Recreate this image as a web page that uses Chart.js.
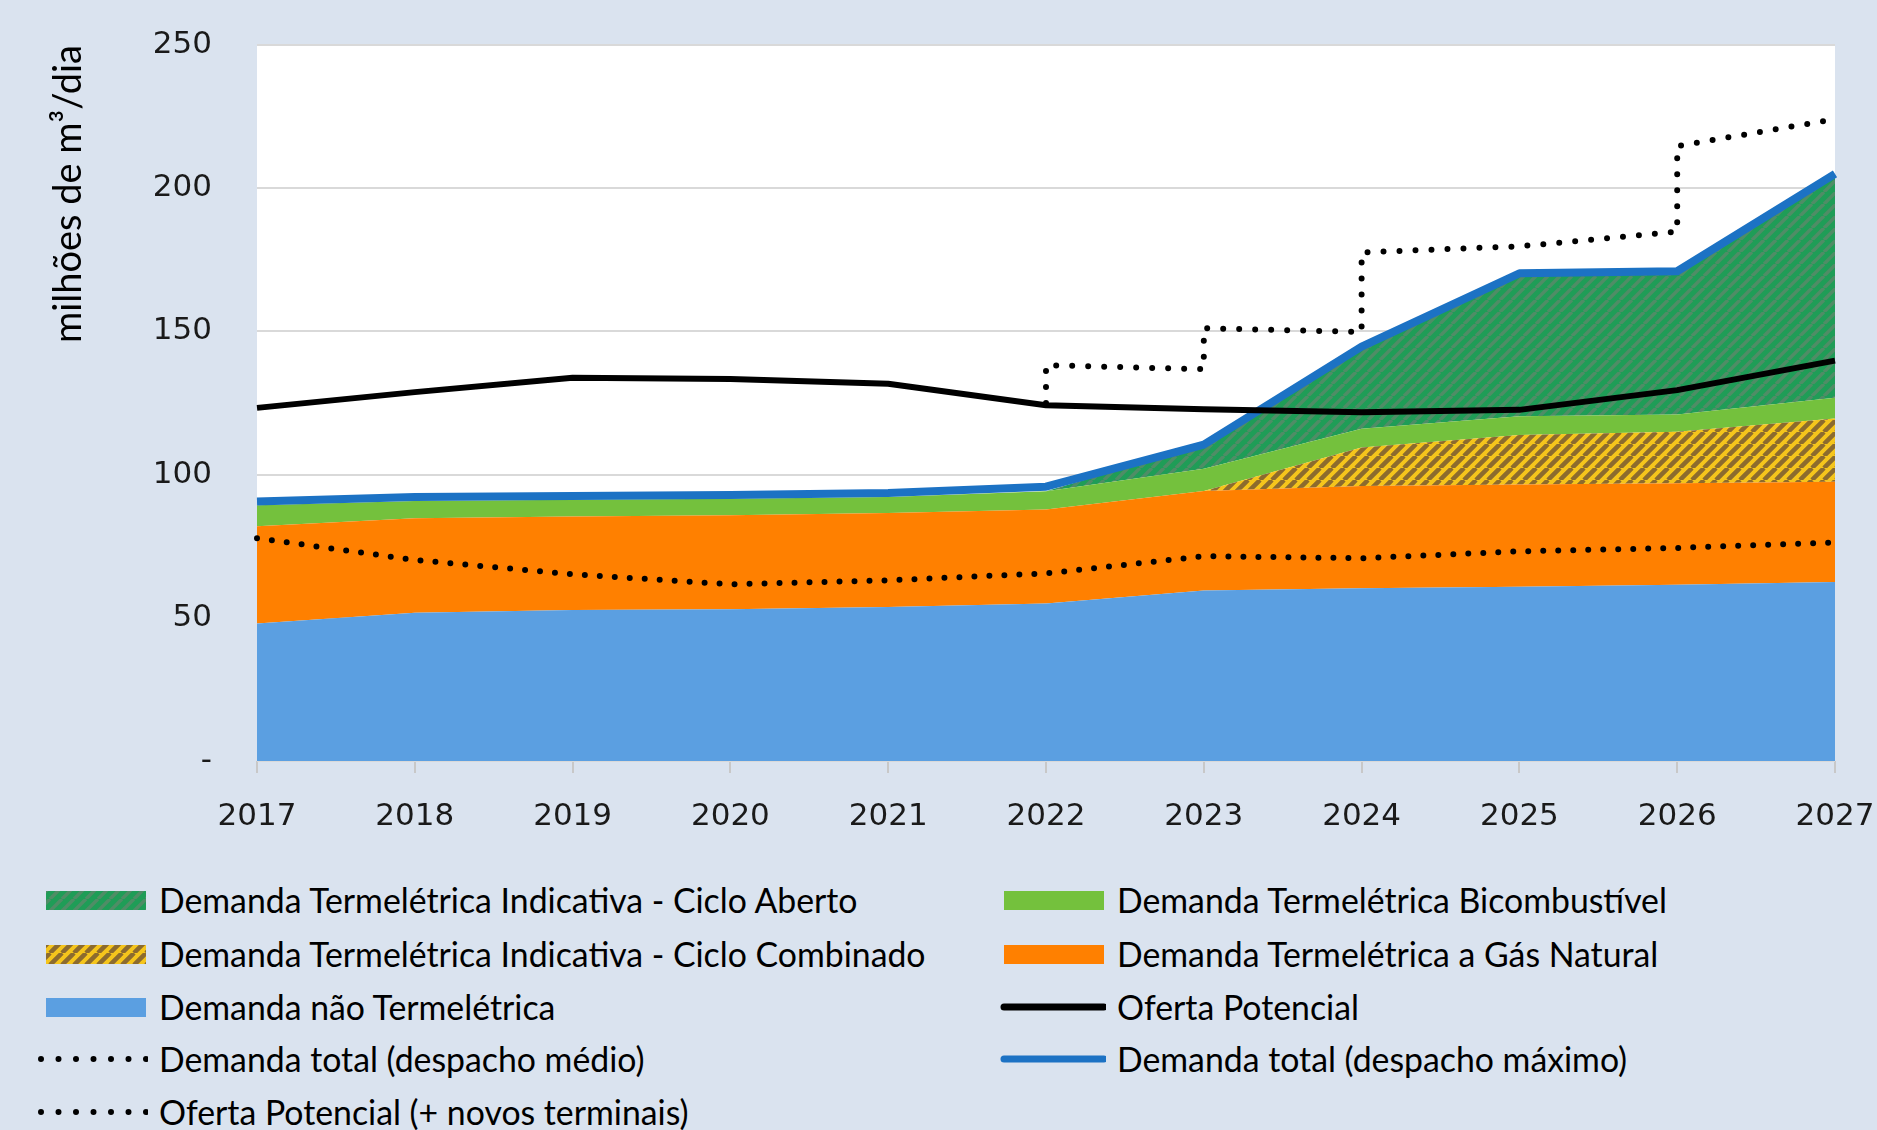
<!DOCTYPE html>
<html>
<head>
<meta charset="utf-8">
<title>Oferta e demanda de gás natural</title>
<script src="https://cdn.jsdelivr.net/npm/chart.js@4.4.1/dist/chart.umd.min.js"></script>
<style>
  html, body { margin: 0; padding: 0; background: #dae3ef; }
  #wrap { position: relative; width: 1877px; height: 1130px; overflow: hidden; }
  #box { position: absolute; left: 0; top: 0; width: 1877px; height: 870px; }
  .item { position: absolute; height: 50px; display: flex; align-items: center;
          font-family: Lato, sans-serif; font-size: 33.8px; color: #000; white-space: nowrap; }
  .item canvas { margin-right: 11px; }
</style>
</head>
<body>
<div id="wrap">
  <div id="box"><canvas id="grafico"></canvas></div>
  <div id="legenda"></div>
</div>
<script>
// dados (milhões de m³/dia)
const anos = ['2017', '2018', '2019', '2020', '2021', '2022', '2023', '2024', '2025', '2026', '2027'];
const naoTermeletrica = [48, 51.8, 52.7, 53, 53.8, 55, 59.5, 60.3, 60.8, 61.5, 62.5];
const gasNatural = [34, 33, 32.7, 32.8, 32.8, 32.8, 34.8, 35.7, 35.7, 35.5, 35];
const cicloCombinado = [0, 0, 0, 0, 0, 0, 0, 13.5, 17.3, 18, 22.1];
const bicombustivel = [7.3, 6, 5.8, 5.8, 5.6, 6.4, 7.7, 6.5, 6.6, 6, 7.2];
const cicloAberto = [0, 0, 0, 0, 0, 0, 8.5, 28.7, 49.9, 50, 78.2];
const ofertaPotencial = [123.3, 128.8, 133.8, 133.4, 131.7, 124.2, 122.8, 121.8, 122.6, 129.5, 139.8];
const demandaMedio = [77.8, 70.2, 65.2, 61.7, 63.1, 65.5, 71.5, 70.8, 73.2, 74.4, 76.3];
const demandaMaximo = [90.6, 92.2, 92.5, 92.9, 93.6, 95.8, 110.5, 144.7, 170.3, 171, 205];
const novosTerminaisAnos = ['2022', '2022', '2023', '2023', '2024', '2024', '2025', '2026', '2026', '2027'];
const novosTerminaisValores = [125, 138.2, 136.8, 151.1, 149.8, 177.6, 179.7, 184.8, 214.7, 224.1];

// hachuras
const hatchVerde = { base: '#1f9d57', stripe: '#4f8d66', size: 12, lw: 3.5 };
const hatchAmarelo = { base: '#f5c51c', stripe: '#8c6b2e', size: 12, lw: 4.5 };

function hatch(ctx, h) {
  const c = document.createElement('canvas');
  c.width = c.height = h.size;
  const g = c.getContext('2d');
  g.fillStyle = h.base;
  g.fillRect(0, 0, h.size, h.size);
  g.strokeStyle = h.stripe;
  g.lineWidth = h.lw;
  g.beginPath();
  for (let k = -1; k <= 1; k++) {
    g.moveTo(k * h.size, h.size);
    g.lineTo((k + 1) * h.size, 0);
  }
  g.stroke();
  return ctx.createPattern(c, 'repeat');
}

const ctx = document.getElementById('grafico').getContext('2d');

const fundoBranco = {
  id: 'fundoBranco',
  beforeDraw(chart) {
    const a = chart.chartArea;
    chart.ctx.save();
    chart.ctx.fillStyle = '#ffffff';
    chart.ctx.fillRect(a.left, a.top, a.right - a.left, a.bottom - a.top);
    chart.ctx.restore();
  }
};

// sem folga extra dos rótulos: a área do gráfico fica onde o padding manda
const semFolga = (s) => { s.paddingTop = 0; s.paddingBottom = 0; s.paddingLeft = 0; s.paddingRight = 0; };

const area = (label, data, fill, cor, swatch) => ({
  label, data, fill, backgroundColor: cor, borderWidth: 0, pointRadius: 0,
  order: 2, stack: 'demanda', swatch
});

const chart = new Chart(ctx, {
  type: 'line',
  data: {
    labels: anos,
    datasets: [
      area('Demanda não Termelétrica', naoTermeletrica, 'origin', '#5b9fe1', { tipo: 'box', cor: '#5b9fe1' }),
      area('Demanda Termelétrica a Gás Natural', gasNatural, '-1', '#ff8000', { tipo: 'box', cor: '#ff8000' }),
      area('Demanda Termelétrica Indicativa - Ciclo Combinado', cicloCombinado, '-1', hatch(ctx, hatchAmarelo), { tipo: 'box', hatch: hatchAmarelo }),
      area('Demanda Termelétrica Bicombustível', bicombustivel, '-1', '#74c13d', { tipo: 'box', cor: '#74c13d' }),
      area('Demanda Termelétrica Indicativa - Ciclo Aberto', cicloAberto, '-1', hatch(ctx, hatchVerde), { tipo: 'box', hatch: hatchVerde }),
      {
        label: 'Demanda total (despacho máximo)', data: demandaMaximo, stack: 'max',
        borderColor: '#1c72c4', borderWidth: 8, fill: false, pointRadius: 0, order: 1,
        borderJoinStyle: 'round', swatch: { tipo: 'linha', cor: '#1c72c4', lw: 7 }
      },
      {
        label: 'Oferta Potencial', data: ofertaPotencial, stack: 'oferta',
        borderColor: '#000000', borderWidth: 6, fill: false, pointRadius: 0, order: 0,
        borderJoinStyle: 'round', swatch: { tipo: 'linha', cor: '#000000', lw: 7 }
      },
      {
        label: 'Demanda total (despacho médio)', data: demandaMedio, stack: 'medio',
        borderColor: '#000000', borderWidth: 6, borderDash: [0, 15], borderCapStyle: 'round',
        fill: false, pointRadius: 0, order: 0, swatch: { tipo: 'pontos' }
      },
      {
        label: 'Oferta Potencial (+ novos terminais)',
        data: novosTerminaisAnos.map((a, i) => ({ x: a, y: novosTerminaisValores[i] })),
        stack: 'novos', borderColor: '#000000', borderWidth: 6, borderDash: [0, 16],
        borderCapStyle: 'round', fill: false, pointRadius: 0, order: 0, swatch: { tipo: 'pontos' }
      }
    ]
  },
  options: {
    responsive: true,
    maintainAspectRatio: false,
    animation: false,
    layout: { padding: { left: 0, right: 42, top: 45, bottom: 0 } },
    plugins: { legend: { display: false }, tooltip: { enabled: false } },
    scales: {
      x: {
        offset: false,
        grid: { drawOnChartArea: false, drawTicks: true, tickLength: 12, color: '#c8c8c8', lineWidth: 2 },
        border: { display: false },
        ticks: { font: { family: 'DejaVu Sans', size: 31 }, color: '#1a1a1a', padding: 25, maxRotation: 0 },
        afterFit: (s) => { s.height = 109; semFolga(s); }
      },
      y: {
        stacked: true,
        min: 0,
        max: 250,
        grid: { color: '#d9d9d9', lineWidth: 2, drawTicks: false },
        border: { display: false },
        ticks: {
          stepSize: 50,
          padding: 45,
          font: { family: 'DejaVu Sans', size: 31 },
          color: '#1a1a1a',
          callback: (v) => (v === 0 ? '-' : v)
        },
        title: {
          display: true, text: 'milhões de m³/dia', align: 'end',
          font: { family: 'Lato', size: 38 }, color: '#000', padding: { top: 46, bottom: 0 }
        },
        afterFit: (s) => { s.width = 257; semFolga(s); }
      }
    }
  },
  plugins: [fundoBranco]
});

// legenda em duas colunas
const colunas = [
  { x: 38, itens: ['Demanda Termelétrica Indicativa - Ciclo Aberto', 'Demanda Termelétrica Indicativa - Ciclo Combinado',
                   'Demanda não Termelétrica', 'Demanda total (despacho médio)', 'Oferta Potencial (+ novos terminais)'] },
  { x: 996, itens: ['Demanda Termelétrica Bicombustível', 'Demanda Termelétrica a Gás Natural',
                    'Oferta Potencial', 'Demanda total (despacho máximo)'] }
];
const linhasY = [900, 954, 1007, 1059, 1112];

const legenda = document.getElementById('legenda');
colunas.forEach((col) => {
  col.itens.forEach((nome, i) => {
    const ds = chart.data.datasets.find((d) => d.label === nome);
    const div = document.createElement('div');
    div.className = 'item';
    div.style.left = col.x + 'px';
    div.style.top = (linhasY[i] - 25) + 'px';
    const cv = document.createElement('canvas');
    cv.width = 110; cv.height = 50;
    const g = cv.getContext('2d');
    const sw = ds.swatch;
    if (sw.tipo === 'box') {
      g.fillStyle = sw.hatch ? hatch(g, sw.hatch) : sw.cor;
      g.fillRect(8, 16, 100, 19);
    } else if (sw.tipo === 'linha') {
      g.strokeStyle = sw.cor; g.lineWidth = sw.lw; g.lineCap = 'round';
      g.beginPath(); g.moveTo(8, 25); g.lineTo(108, 25); g.stroke();
    } else {
      g.strokeStyle = '#000'; g.lineWidth = 6; g.lineCap = 'round'; g.setLineDash([0, 17.5]);
      g.beginPath(); g.moveTo(3, 25); g.lineTo(109, 25); g.stroke();
    }
    const span = document.createElement('span');
    span.textContent = nome;
    div.appendChild(cv);
    div.appendChild(span);
    legenda.appendChild(div);
  });
});
</script>
</body>
</html>
